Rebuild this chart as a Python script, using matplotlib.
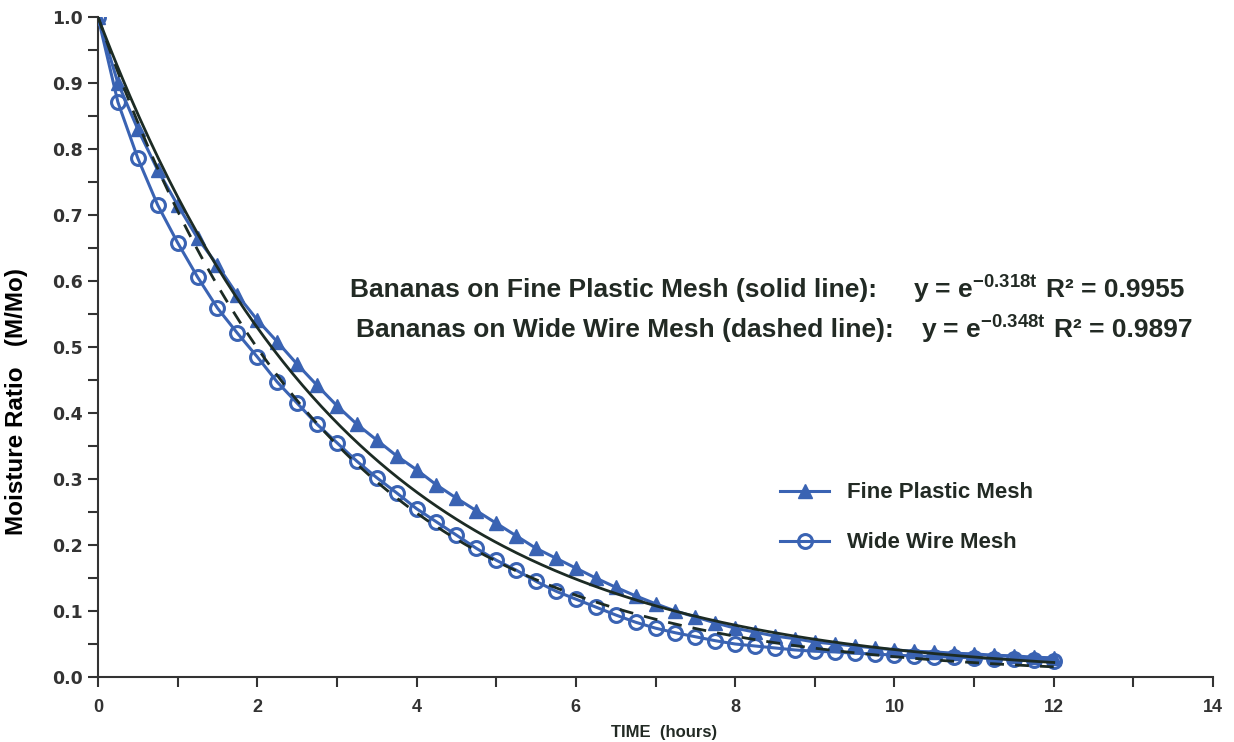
import numpy as np
import matplotlib
matplotlib.use("Agg")
import matplotlib.pyplot as plt
from matplotlib.ticker import MultipleLocator, FormatStrFormatter

time_h = np.arange(0, 12.01, 0.25)

fine_plastic = [1.000, 0.900, 0.830, 0.768, 0.715, 0.665, 0.624, 0.579, 0.541, 0.508,
                0.474, 0.442, 0.411, 0.383, 0.359, 0.335, 0.314, 0.291, 0.271, 0.252,
                0.233, 0.214, 0.195, 0.180, 0.165, 0.150, 0.136, 0.123, 0.111, 0.100,
                0.091, 0.082, 0.074, 0.068, 0.062, 0.058, 0.053, 0.050, 0.047, 0.044,
                0.041, 0.039, 0.038, 0.036, 0.035, 0.033, 0.032, 0.030, 0.029]

wide_wire = [1.000, 0.871, 0.786, 0.715, 0.658, 0.606, 0.559, 0.521, 0.485, 0.447,
             0.415, 0.383, 0.355, 0.327, 0.302, 0.279, 0.255, 0.235, 0.215, 0.195,
             0.177, 0.162, 0.145, 0.130, 0.118, 0.106, 0.094, 0.083, 0.074, 0.067,
             0.061, 0.055, 0.050, 0.047, 0.044, 0.041, 0.039, 0.038, 0.036, 0.035,
             0.033, 0.032, 0.031, 0.030, 0.029, 0.028, 0.027, 0.026, 0.025]

# fitted exponential coefficients shown on the chart
k_fine = 0.318
k_wide = 0.348
r2_fine = 0.9955
r2_wide = 0.9897

BLUE = "#3A63B3"
DARK = "#1c2b24"
TXT = "#222a24"

plt.rcParams["font.family"] = ["Liberation Sans", "DejaVu Sans"]
plt.rcParams["font.weight"] = "bold"
plt.rcParams["mathtext.fontset"] = "custom"
plt.rcParams["mathtext.rm"] = "Liberation Sans:bold"
plt.rcParams["mathtext.it"] = "Liberation Sans:bold"
plt.rcParams["mathtext.bf"] = "Liberation Sans:bold"

fig = plt.figure(figsize=(12.34, 7.42), dpi=100)
ax = fig.add_axes([0.0794, 0.0876, 0.9036, 0.8895])

# data series
ax.plot(time_h, fine_plastic, color=BLUE, lw=2.2, marker="^", ms=10,
        label="Fine Plastic Mesh", zorder=3)
ax.plot(time_h, wide_wire, color=BLUE, lw=2.2, marker="o", ms=10, mfc="none",
        mew=2.2, label="Wide Wire Mesh", zorder=3)

# fitted curves
t_fit = np.linspace(0, 12, 300)
ax.plot(t_fit, np.exp(-k_fine * t_fit), color=DARK, lw=2.0, zorder=4)
ax.plot(t_fit, np.exp(-k_wide * t_fit), color=DARK, lw=2.0, ls=(0, (5, 4)), zorder=4)

ax.set_xlim(0, 14)
ax.set_ylim(0, 1.0)
ax.xaxis.set_major_locator(MultipleLocator(2))
ax.xaxis.set_minor_locator(MultipleLocator(1))
ax.yaxis.set_major_locator(MultipleLocator(0.1))
ax.yaxis.set_minor_locator(MultipleLocator(0.05))
ax.yaxis.set_major_formatter(FormatStrFormatter("%.1f"))

for s in ["top", "right"]:
    ax.spines[s].set_visible(False)
for s in ["left", "bottom"]:
    ax.spines[s].set_linewidth(1.5)
    ax.spines[s].set_color("#333333")

ax.tick_params(which="both", direction="out", width=1.5, color="#333333",
               length=7, labelcolor="#333333")
ax.tick_params(axis="x", which="major", labelsize=13, pad=9)
ax.tick_params(axis="y", which="major", labelsize=12.5, pad=4)
for lbl in ax.get_yticklabels():
    lbl.set_family("DejaVu Sans")

ax.set_xlabel("TIME  (hours)", fontsize=12, color=TXT, fontweight="bold")
ax.xaxis.set_label_coords(0.508, -0.073)
ax.set_ylabel("Moisture Ratio   (M/Mo)", fontsize=17.5, color="black", fontweight="bold",
              family=["Liberation Sans Narrow", "Liberation Sans"])
ax.yaxis.set_label_coords(-0.063, 0.418)

# equation annotations
fs = 19
ax.text(3.17, 0.586, "Bananas on Fine Plastic Mesh (solid line):", fontsize=fs,
        color=TXT, va="center")
ax.text(10.23, 0.586, r"y = e$^{-%.3ft}$" % k_fine, fontsize=fs, color=TXT, va="center")
ax.text(11.9, 0.586, "R² = %.4f" % r2_fine, fontsize=fs, color=TXT, va="center")
ax.text(3.24, 0.526, "Bananas on Wide Wire Mesh (dashed line):", fontsize=fs,
        color=TXT, va="center")
ax.text(10.33, 0.526, r"y = e$^{-%.3ft}$" % k_wide, fontsize=fs, color=TXT, va="center")
ax.text(12.0, 0.526, "R² = %.4f" % r2_wide, fontsize=fs, color=TXT, va="center")

leg = ax.legend(loc="center left", bbox_to_anchor=(0.612, 0.241), frameon=False,
                fontsize=16, handlelength=2.2, labelspacing=1.3, handletextpad=0.8,
                borderpad=0, borderaxespad=0)
for t in leg.get_texts():
    t.set_color(TXT)

fig.savefig("out.png", dpi=100)
